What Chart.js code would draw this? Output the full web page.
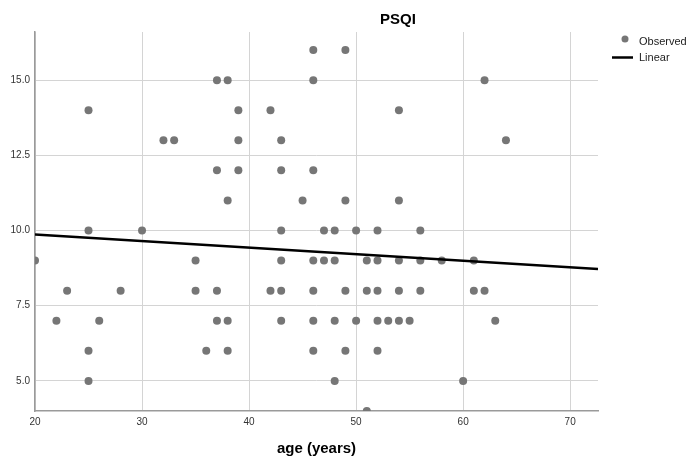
<!DOCTYPE html>
<html>
<head>
<meta charset="utf-8">
<script src="https://cdn.jsdelivr.net/npm/chart.js@4"></script>
<style>
    html, body { margin: 0; padding: 0; background: #fff; }
    #wrap { width: 690px; height: 459px; position: relative; }
</style>
</head>
<body>
<div id="wrap"><canvas id="psqiChart"></canvas></div>
<script>
// ── Data ────────────────────────────────────────────────────────────────

const ages = [
    20, 22, 23, 25, 25, 25, 25, 26, 28, 30, 32, 33, 35, 35, 36,
    37, 37, 37, 37, 38, 38, 38, 38, 39, 39, 39, 42, 42,
    43, 43, 43, 43, 43, 43, 45, 46, 46, 46, 46, 46, 46, 46,
    47, 47, 48, 48, 48, 48, 49, 49, 49, 49, 50, 50, 51, 51, 51,
    52, 52, 52, 52, 52, 53, 54, 54, 54, 54, 54, 55, 56, 56, 56,
    58, 60, 61, 61, 62, 62, 63, 64,
];
const psqi = [
     9,  7,  8, 14, 10,  6,  5,  7,  8, 10, 13, 13,  9,  8,  6,
    15, 12,  8,  7, 15, 11,  7,  6, 14, 13, 12, 14,  8,
    13, 12, 10,  9,  8,  7, 11, 16, 15, 12,  9,  8,  7,  6,
    10,  9, 10,  9,  7,  5, 16, 11,  8,  6, 10,  7,  9,  8,  4,
    10,  9,  8,  7,  6,  7, 14, 11,  9,  8,  7,  7, 10,  9,  8,
     9,  5,  9,  8, 15,  8,  7, 13,
];

// fitted line, end points as drawn
const fitX = [20, 72.6];
const fitY = [9.87, 8.72];

const xTicks = [20, 30, 40, 50, 60, 70];
const yTicks = [5, 7.5, 10, 12.5, 15];

const POINT_COLOR = '#767676';
const FONT = '"Liberation Sans", Arial, sans-serif';

// ── Title / legend drawn on the canvas ──────────────────────────────────

const decorations = {
    id: 'decorations',
    afterDraw(chart) {
        const c = chart.ctx;
        c.save();
        c.fillStyle = '#000';
        c.textBaseline = 'middle';

        c.font = `bold 15px ${FONT}`;
        c.textAlign = 'center';
        c.fillText('PSQI', 398, 20);

        // legend
        c.font = `11px ${FONT}`;
        c.textAlign = 'left';
        c.fillStyle = POINT_COLOR;
        c.beginPath();
        c.arc(625, 39, 3.5, 0, Math.PI * 2);
        c.fill();
        c.fillStyle = '#222';
        c.fillText('Observed', 639, 42);

        c.strokeStyle = '#000';
        c.lineWidth = 2.5;
        c.beginPath();
        c.moveTo(612, 57.5);
        c.lineTo(633, 57.5);
        c.stroke();
        c.fillText('Linear', 639, 58);
        c.restore();
    },
};

// ── Chart ───────────────────────────────────────────────────────────────

new Chart(document.getElementById('psqiChart'), {
    type: 'scatter',
    data: {
        datasets: [
            {
                label: 'Linear',
                type: 'line',
                data: fitX.map((x, i) => ({ x, y: fitY[i] })),
                borderColor: '#000',
                borderWidth: 2.5,
                pointRadius: 0,
                fill: false,
            },
            {
                label: 'Observed',
                data: ages.map((x, i) => ({ x, y: psqi[i] })),
                backgroundColor: POINT_COLOR,
                borderWidth: 0,
                pointRadius: 4,
                clip: 0,
            },
        ],
    },
    options: {
        responsive: true,
        maintainAspectRatio: false,
        animation: false,
        layout: { padding: { top: 32, right: 92, left: 0, bottom: 0 } },
        plugins: {
            legend: { display: false },
            title: { display: false },
            tooltip: { enabled: false },
        },
        scales: {
            x: {
                type: 'linear',
                min: 20,
                max: 72.6,
                afterBuildTicks: s => { s.ticks = xTicks.map(v => ({ value: v })); },
                afterFit: s => { s.height = 48; },
                grid: { color: '#d4d4d4', lineWidth: 1, drawTicks: false },
                border: { color: '#9a9a9a', width: 1.5 },
                ticks: {
                    color: '#333',
                    font: { family: FONT, size: 10 },
                    padding: 5,
                    maxRotation: 0,
                    callback: v => String(v),
                },
                title: {
                    display: true,
                    text: 'age (years)',
                    color: '#000',
                    font: { family: FONT, size: 15, weight: 'bold' },
                    padding: { top: 0, bottom: 1 },
                },
            },
            y: {
                type: 'linear',
                min: 4,
                max: 16.6,
                afterBuildTicks: s => { s.ticks = yTicks.map(v => ({ value: v })); },
                afterFit: s => { s.width = 35; },
                grid: { color: '#d4d4d4', lineWidth: 1, drawTicks: false },
                border: { color: '#9a9a9a', width: 1.5 },
                ticks: {
                    color: '#333',
                    font: { family: FONT, size: 10 },
                    padding: 5,
                    callback: v => v.toFixed(1),
                },
            },
        },
    },
    plugins: [decorations],
});
</script>
</body>
</html>
